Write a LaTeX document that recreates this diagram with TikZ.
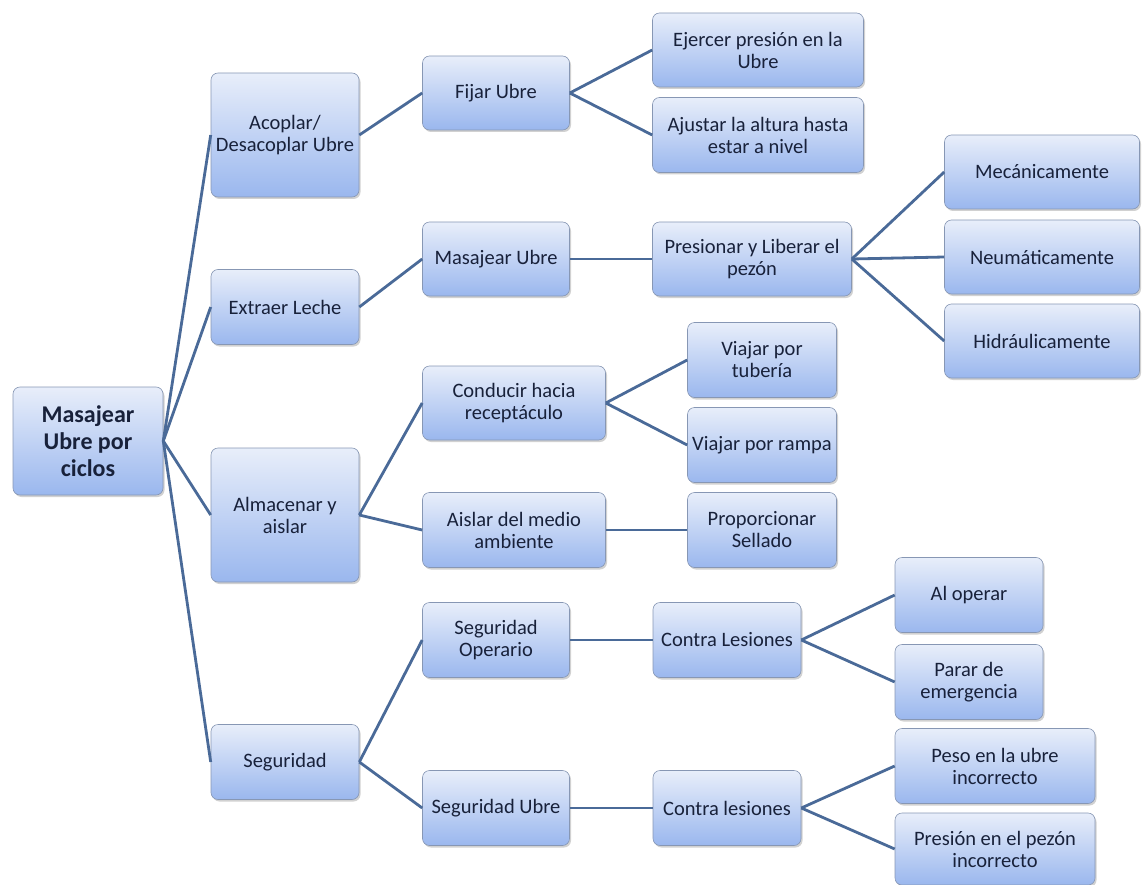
\documentclass[tikz,border=0pt]{standalone}
\usepackage{fontspec}
\setmainfont{Carlito}
\usetikzlibrary{shadows}
\definecolor{linec}{HTML}{4A6A98}
\definecolor{boxtop}{HTML}{E8EEFA}
\definecolor{boxbot}{HTML}{9AB7EE}
\definecolor{boxborder}{HTML}{8797B4}
\definecolor{textc}{HTML}{18213A}
\begin{document}
\begin{tikzpicture}[x=1pt,y=-1pt,
  box/.style={draw=boxborder, line width=0.6pt, rounded corners=7pt,
    top color=boxtop, bottom color=boxbot,
    drop shadow={shadow xshift=1.5pt,shadow yshift=-2pt,opacity=0.3,fill=black!60},
    align=center, inner sep=2pt, text=textc,
    font=\fontsize{20.5}{22}\selectfont},
  sz/.style 2 args={minimum width=#1pt, minimum height=#2pt},
  rootbox/.style={box, font=\fontsize{24}{27}\selectfont\bfseries},
  conn/.style={draw=linec, line width=2.8pt}]
\useasboundingbox (0,0) rectangle (1142,885);

% root
\node[rootbox, sz={150}{108}] (root) at (88,441) {Masajear\\Ubre por\\ciclos};

% level 1
\node[box, sz={148}{124}] (acoplar) at (285,135) {Acoplar/\\Desacoplar Ubre};
\node[box, sz={148}{75}] (extraer) at (285,307) {Extraer Leche};
\node[box, sz={148}{134}] (almacenar) at (285,515) {Almacenar y\\aislar};
\node[box, sz={148}{75}] (seguridad) at (285,762) {Seguridad};

% level 2
\node[box, sz={147}{74}] (fijar) at (496,93) {Fijar Ubre};
\node[box, sz={147}{74}] (masajear) at (496,259) {Masajear Ubre};
\node[box, sz={183}{74}] (conducir) at (514,403) {Conducir hacia\\receptáculo};
\node[box, sz={183}{75}] (aislar) at (514,530) {Aislar del medio\\ambiente};
\node[box, sz={147}{75}] (segop) at (496,640) {Seguridad\\Operario};
\node[box, sz={147}{75}] (segubre) at (496,808) {Seguridad Ubre};

% level 3
\node[box, sz={211}{74}] (ejercer) at (758,50) {Ejercer presión en la\\Ubre};
\node[box, sz={211}{75}] (ajustar) at (758,135) {Ajustar la altura hasta\\estar a nivel};
\node[box, sz={199}{74}] (presionar) at (752,259) {Presionar y Liberar el\\pezón};
\node[box, sz={149}{75}] (tuberia) at (762,360) {Viajar por\\tubería};
\node[box, sz={149}{75}] (rampa) at (762,445) {Viajar por rampa};
\node[box, sz={149}{75}] (sellado) at (762,530) {Proporcionar\\Sellado};
\node[box, sz={148}{75}] (contraL) at (727,640) {Contra Lesiones};
\node[box, sz={148}{75}] (contral) at (727,808) {Contra lesiones};

% level 4
\node[box, sz={195}{74}] (mec) at (1042,172) {Mecánicamente};
\node[box, sz={195}{74}] (neu) at (1042,257) {Neumáticamente};
\node[box, sz={195}{74}] (hid) at (1042,341) {Hidráulicamente};
\node[box, sz={148}{75}] (aloperar) at (969,595) {Al operar};
\node[box, sz={148}{75}] (parar) at (969,682) {Parar de\\emergencia};
\node[box, sz={200}{75}] (peso) at (995,766) {Peso en la ubre\\incorrecto};
\node[box, sz={200}{72}] (pezon) at (995,849) {Presión en el pezón\\incorrecto};

% connectors
\foreach \a/\b in {root/acoplar, root/extraer, root/almacenar, root/seguridad,
  acoplar/fijar, extraer/masajear, almacenar/conducir, almacenar/aislar,
  seguridad/segop, seguridad/segubre,
  fijar/ejercer, fijar/ajustar, masajear/presionar,
  conducir/tuberia, conducir/rampa, aislar/sellado,
  segop/contraL, segubre/contral,
  presionar/mec, presionar/neu, presionar/hid,
  contraL/aloperar, contraL/parar, contral/peso, contral/pezon}
  \draw[conn] (\a.east) -- (\b.west);
\end{tikzpicture}
\end{document}
